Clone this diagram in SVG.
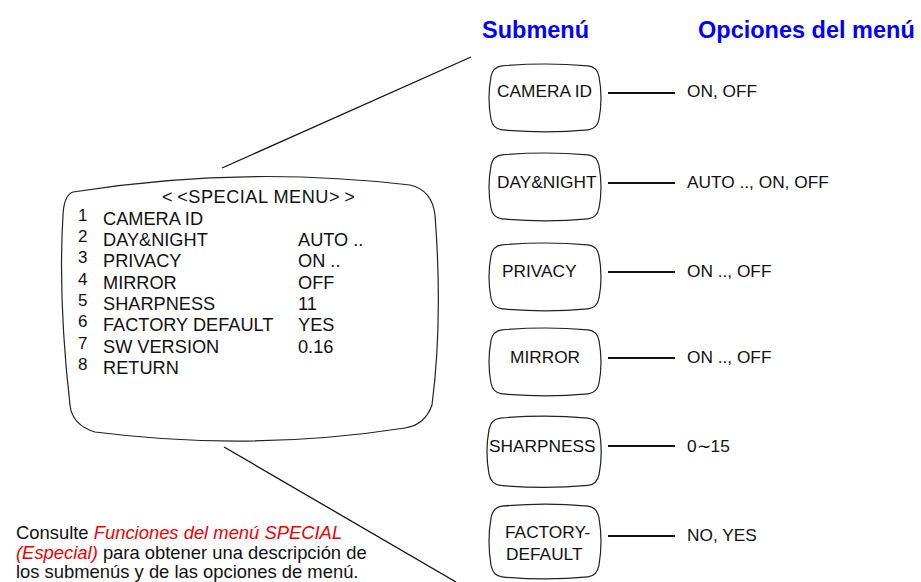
<svg xmlns="http://www.w3.org/2000/svg" width="921" height="582" viewBox="0 0 921 582">
<style>
.t{font-family:"Liberation Sans",Arial,sans-serif;font-size:18.2px;fill:#111}
.b{font-family:"Liberation Sans",Arial,sans-serif;font-size:17.3px;fill:#111}
.n{font-family:"Liberation Sans",Arial,sans-serif;font-size:17px;fill:#111}
.h{font-family:"Liberation Sans",Arial,sans-serif;font-size:23.5px;font-weight:bold;fill:#0000ff}
.note{font-family:"Liberation Sans",Arial,sans-serif;font-size:18.4px;fill:#111}
.red{fill:#ee0000;font-style:italic}
.shape{fill:#fff;stroke:#222;stroke-width:1.2}
.con{stroke:#111;stroke-width:1.3;fill:none}
.opt{stroke:#111;stroke-width:1.8;fill:none}
</style>
<defs>
<path id="tv" d="M 12,3 Q 55,-1 98,3 Q 107,4 109,14 Q 113,36 109,58 Q 107,68 98,69 Q 55,73 12,69 Q 3,68 1,58 Q -3,36 1,14 Q 3,4 12,3 Z"/>
</defs>
<rect width="921" height="582" fill="#fff"/>

<text class="h" x="482" y="38">Submenú</text>
<text class="h" x="698" y="38">Opciones del menú</text>

<g id="connectors">
<line class="con" x1="222" y1="168" x2="471" y2="57"/>
<line class="con" x1="224" y1="447" x2="456" y2="582"/>
<line class="opt" x1="608" y1="93" x2="675" y2="93"/>
<line class="opt" x1="608" y1="183" x2="675" y2="183"/>
<line class="opt" x1="608" y1="272" x2="675" y2="272"/>
<line class="opt" x1="608" y1="358" x2="675" y2="358"/>
<line class="opt" x1="608" y1="446" x2="675" y2="446"/>
<line class="opt" x1="608" y1="536" x2="675" y2="536"/>
</g>

<g id="special-menu">
<path class="shape" d="M 73,192 Q 240,165 410,185 Q 432,190 435,215 Q 443,320 432,405 Q 425,425 405,428 Q 250,452 95,432 Q 72,425 70,405 Q 58,300 63,215 Q 64,195 73,192 Z"/>
<text class="t" x="162" y="203" style="letter-spacing:0.5px">&lt;<tspan dx="4">&lt;SPECIAL MENU&gt;</tspan><tspan dx="4">&gt;</tspan></text>
<text class="n" x="78" y="221">1</text><text class="t" x="103" y="225">CAMERA ID</text>
<text class="n" x="78" y="242">2</text><text class="t" x="103" y="246">DAY&amp;NIGHT</text><text class="t" x="298" y="246">AUTO ..</text>
<text class="n" x="78" y="263">3</text><text class="t" x="103" y="267">PRIVACY</text><text class="t" x="298" y="267">ON ..</text>
<text class="n" x="78" y="285">4</text><text class="t" x="103" y="289">MIRROR</text><text class="t" x="298" y="289">OFF</text>
<text class="n" x="78" y="306">5</text><text class="t" x="103" y="310">SHARPNESS</text><text class="t" x="298" y="310">11</text>
<text class="n" x="78" y="327">6</text><text class="t" x="103" y="331">FACTORY DEFAULT</text><text class="t" x="298" y="331">YES</text>
<text class="n" x="78" y="349">7</text><text class="t" x="103" y="353">SW VERSION</text><text class="t" x="298" y="353">0.16</text>
<text class="n" x="78" y="370">8</text><text class="t" x="103" y="374">RETURN</text>
</g>

<g id="camera-id">
<use href="#tv" class="shape" transform="translate(490,63) scale(1,0.97)"/>
<text class="b" x="497" y="97">CAMERA ID</text>
<text class="b" x="687" y="97">ON, OFF</text>
</g>
<g id="day-night">
<use href="#tv" class="shape" transform="translate(490,152) scale(1,0.97)"/>
<text class="b" x="497" y="188">DAY&amp;NIGHT</text>
<text class="b" x="687" y="188">AUTO .., ON, OFF</text>
</g>
<g id="privacy">
<use href="#tv" class="shape" transform="translate(490,242) scale(1,0.97)"/>
<text class="b" x="502" y="277">PRIVACY</text>
<text class="b" x="687" y="277">ON .., OFF</text>
</g>
<g id="mirror">
<use href="#tv" class="shape" transform="translate(490,327) scale(1,0.97)"/>
<text class="b" x="510" y="363">MIRROR</text>
<text class="b" x="687" y="363">ON .., OFF</text>
</g>
<g id="sharpness">
<use href="#tv" class="shape" transform="translate(488,415) scale(1.02,1.02)"/>
<text class="b" x="489" y="452">SHARPNESS</text>
<text class="b" x="687" y="452">0∼15</text>
</g>
<g id="factory-default">
<use href="#tv" class="shape" transform="translate(490,503) scale(1,1.07)"/>
<text class="b" x="505" y="538">FACTORY-</text>
<text class="b" x="506" y="560">DEFAULT</text>
<text class="b" x="687" y="541">NO, YES</text>
</g>

<g id="note">
<text class="note" x="16" y="539">Consulte <tspan class="red">Funciones del menú SPECIAL</tspan></text>
<text class="note" x="16" y="559"><tspan class="red">(Especial)</tspan> para obtener una descripción de</text>
<text class="note" x="16" y="578">los submenús y de las opciones de menú.</text>
</g>
</svg>
